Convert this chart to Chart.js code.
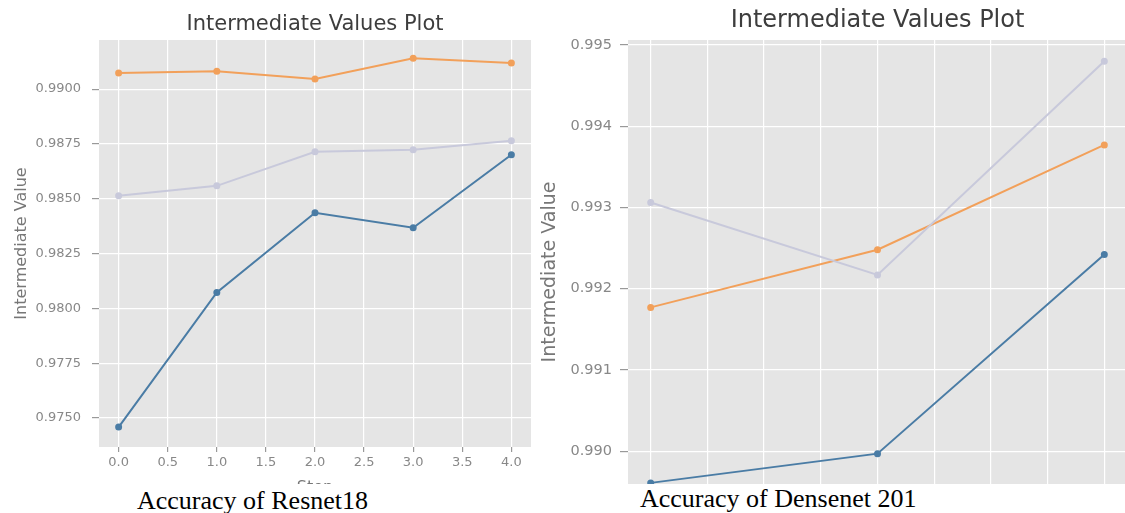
<!DOCTYPE html>
<html>
<head>
<meta charset="utf-8">
<script src="https://cdn.jsdelivr.net/npm/chart.js@4.4.1/dist/chart.umd.min.js"></script>
<style>
  html, body { margin: 0; padding: 0; background: #fff; }
  body { width: 1125px; height: 513px; overflow: hidden; position: relative; }
  canvas { position: absolute; top: 0; }
  #c1 { left: 0; }
  #c2 { left: 530px; }
  .cap { position: absolute; background: #fff; font-family: "Liberation Serif", "Times New Roman", serif; font-size: 26px; color: #000; }
  .cap span { position: absolute; top: 2px; line-height: 29px; white-space: nowrap; }
</style>
</head>
<body>
<canvas id="c1" width="560" height="500"></canvas>
<canvas id="c2" width="603" height="510"></canvas>
<div class="cap" style="left:0;top:484px;width:560px;height:29px"><span style="left:137px">Accuracy of Resnet18</span></div>
<div class="cap" style="left:560px;top:484px;width:565px;height:29px"><span style="left:80px;top:0px">Accuracy of Densenet 201</span></div>
<script>
// Resnet18 (left)
const resSteps = [0, 1, 2, 3, 4];
const resBlue = [0.97459, 0.98073, 0.98436, 0.98368, 0.98701];
const resOrange = [0.99073, 0.99082, 0.99046, 0.99141, 0.99119];
const resGray = [0.98514, 0.98559, 0.98714, 0.98724, 0.98765];
const resYTicks = [0.975, 0.9775, 0.98, 0.9825, 0.985, 0.9875, 0.99];
const resXTicks = [0, 0.5, 1, 1.5, 2, 2.5, 3, 3.5, 4];

// Densenet 201 (right)
const denSteps = [0, 1, 2];
const denBlue = [0.98961, 0.98997, 0.99242];
const denOrange = [0.99177, 0.99248, 0.99377];
const denGray = [0.99306, 0.99217, 0.99480];
const denYTicks = [0.990, 0.991, 0.992, 0.993, 0.994, 0.995];
const denXTicks = [0, 0.25, 0.5, 0.75, 1, 1.25, 1.5, 1.75, 2];

const BLUE = "#4a7ca5", ORANGE = "#f2a05a", GRAY = "#c8c9db";

const plotBg = {
  id: "plotBg",
  beforeDraw(c) {
    const a = c.chartArea, ctx = c.ctx;
    ctx.save();
    ctx.fillStyle = "#e5e5e5";
    ctx.fillRect(a.left, a.top, a.width, a.height);
    ctx.restore();
  }
};

function pts(xs, ys) {
  return xs.map((x, i) => ({ x: x, y: ys[i] }));
}

function series(xs, ys, color) {
  return {
    data: pts(xs, ys),
    borderColor: color,
    backgroundColor: color,
    pointBackgroundColor: color,
    pointBorderColor: color,
    borderWidth: 2,
    pointRadius: 2.5,
    tension: 0
  };
}

function setTicks(list) {
  return s => { s.ticks = list.map(v => ({ value: v })); };
}

// left chart
new Chart(document.getElementById("c1"), {
  type: "line",
  data: {
    datasets: [
      series(resSteps, resGray, GRAY),
      series(resSteps, resOrange, ORANGE),
      series(resSteps, resBlue, BLUE)
    ]
  },
  options: {
    responsive: false,
    animation: false,
    devicePixelRatio: 1,
    layout: { padding: { left: 0, right: 29, top: 0, bottom: 0 } },
    plugins: {
      legend: { display: false },
      tooltip: { enabled: false },
      title: {
        display: true,
        fullSize: false,
        text: "Intermediate Values Plot",
        color: "#3d3d3d",
        font: { family: "DejaVu Sans", size: 21, weight: "normal" },
        padding: { top: 12, bottom: 2.8 }
      }
    },
    scales: {
      x: {
        type: "linear",
        min: -0.2,
        max: 4.2,
        afterBuildTicks: setTicks(resXTicks),
        afterFit: s => { s.height = 53; },
        grid: { color: "#ffffff", lineWidth: 1.2, tickColor: "#999", tickLength: 5 },
        border: { display: false },
        ticks: {
          color: "#888",
          font: { family: "DejaVu Sans", size: 13 },
          padding: 3,
          maxRotation: 0,
          callback: v => v.toFixed(1)
        },
        title: {
          display: true,
          text: "Step",
          color: "#777",
          font: { family: "DejaVu Sans", size: 16 },
          padding: { top: 0, bottom: 3 }
        }
      },
      y: {
        type: "linear",
        min: 0.97368,
        max: 0.99224,
        afterBuildTicks: setTicks(resYTicks),
        afterFit: s => { s.width = 99; },
        grid: { color: "#ffffff", lineWidth: 1.2, tickColor: "#999", tickLength: 7 },
        border: { display: false },
        ticks: {
          color: "#888",
          font: { family: "DejaVu Sans", size: 13 },
          padding: 11,
          callback: v => v.toFixed(4)
        },
        title: {
          display: true,
          text: "Intermediate Value",
          color: "#777",
          font: { family: "DejaVu Sans", size: 16 },
          padding: { top: 12, bottom: 0 }
        }
      }
    }
  },
  plugins: [plotBg]
});

// right chart
new Chart(document.getElementById("c2"), {
  type: "line",
  data: {
    datasets: [
      series(denSteps, denGray, GRAY),
      series(denSteps, denOrange, ORANGE),
      series(denSteps, denBlue, BLUE)
    ]
  },
  options: {
    responsive: false,
    animation: false,
    devicePixelRatio: 1,
    layout: { padding: 0 },
    plugins: {
      legend: { display: false },
      tooltip: { enabled: false },
      title: {
        display: true,
        fullSize: false,
        text: "Intermediate Values Plot",
        color: "#3d3d3d",
        font: { family: "DejaVu Sans", size: 24, weight: "normal" },
        padding: { top: 6, bottom: 5.2 }
      }
    },
    scales: {
      x: {
        type: "linear",
        min: -0.1,
        max: 2.1,
        afterBuildTicks: setTicks(denXTicks),
        afterFit: s => { s.height = 0; },
        grid: { color: "#ffffff", lineWidth: 1.2, drawTicks: false },
        border: { display: false },
        ticks: { display: false }
      },
      y: {
        type: "linear",
        min: 0.98935,
        max: 0.995061,
        afterBuildTicks: setTicks(denYTicks),
        afterFit: s => { s.width = 98; s.paddingTop = 0; s.paddingBottom = 0; },
        grid: { color: "#ffffff", lineWidth: 1.2, tickColor: "#999", tickLength: 8 },
        border: { display: false },
        ticks: {
          color: "#888",
          font: { family: "DejaVu Sans", size: 14.5 },
          padding: 8,
          callback: v => v.toFixed(3)
        },
        title: {
          display: true,
          text: "Intermediate Value",
          color: "#777",
          font: { family: "DejaVu Sans", size: 19 },
          padding: { top: 9, bottom: 0 }
        }
      }
    }
  },
  plugins: [plotBg]
});
</script>
</body>
</html>
